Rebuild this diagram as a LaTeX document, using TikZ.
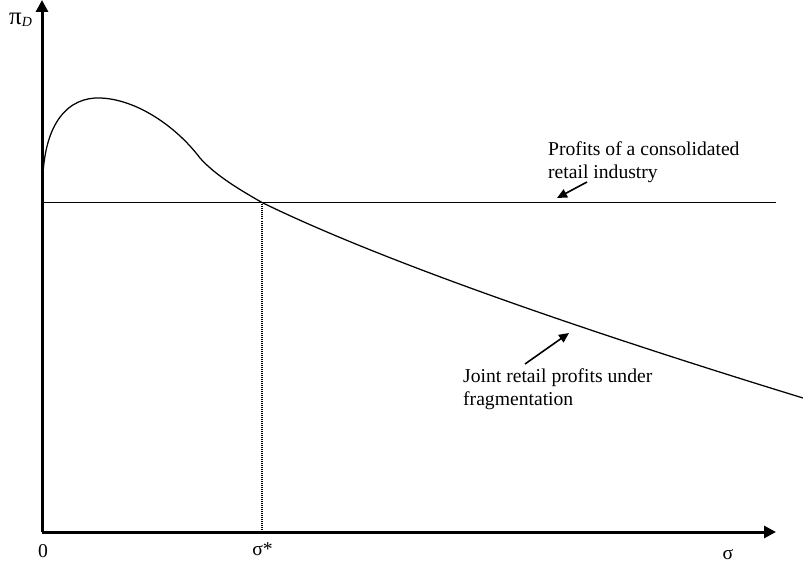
\documentclass[tikz,border=0pt]{standalone}
\usepackage{fontspec}
\setmainfont{Liberation Serif}
\usetikzlibrary{arrows.meta,positioning}

\begin{document}
\begin{tikzpicture}[x=1bp,y=-1bp,font=\fontsize{19.7}{24}\selectfont]
\tikzstyle{axis}=[line width=3bp,-{Triangle[length=12bp,width=12bp]}]
\tikzstyle{pointer}=[line width=1.6bp,-{Triangle[length=10bp,width=9bp]}]
\tikzstyle{lbl}=[inner sep=0pt,align=left,anchor=north west]
\tikzstyle{tick}=[inner sep=0pt,anchor=base]
\useasboundingbox (0,0) rectangle (803,567);
% axes
\coordinate (O) at (42,532);
\coordinate (ytop) at (42,0);
\coordinate (xend) at (776,532);
\draw[axis] (O) -- (ytop);
\draw[axis] (O) -- (xend);
\node[tick,anchor=base west] (piD) at (9,25)
  {{\fontsize{25}{25}\selectfont π}\raisebox{-2bp}{\fontsize{14}{14}\selectfont\itshape D}};
\node[tick] (zero) at (43,557) {0};
\node[tick] (sigma) at (728,559) {σ};
% consolidated profits
\coordinate (cleft) at (42,202.5);
\coordinate (cright) at (776,202.5);
\draw[line width=1.4bp] (cleft) -- (cright);
% fragmented profits
\draw[line width=1.25bp] (42.6,186) .. controls (43,120) and (70,97) .. (100,98)
  .. controls (135,99) and (175,125) .. (200,158)
  .. controls (215,175) and (240,190) .. (262,202.5) coordinate (cross)
  .. controls (400,270) and (640,348) .. (803,398);
\coordinate (sbase) at (262,532);
\draw[line width=1.6bp,dash pattern=on 1bp off 1bp] (cross) -- (sbase);
\node[tick] (sstar) at (262.5,555) {σ*};
% labels
\node[lbl] (cons) at (548,141) {Profits of a consolidated\\retail industry};
\node[lbl] (frag) at (463,368) {Joint retail profits under\\fragmentation};
\coordinate (c1) at (587,182);
\coordinate (c2) at (557,198);
\coordinate (f1) at (525,364);
\coordinate (f2) at (569,333);
\draw[pointer] (c1) -- (c2);
\draw[pointer] (f1) -- (f2);
\end{tikzpicture}
\end{document}
